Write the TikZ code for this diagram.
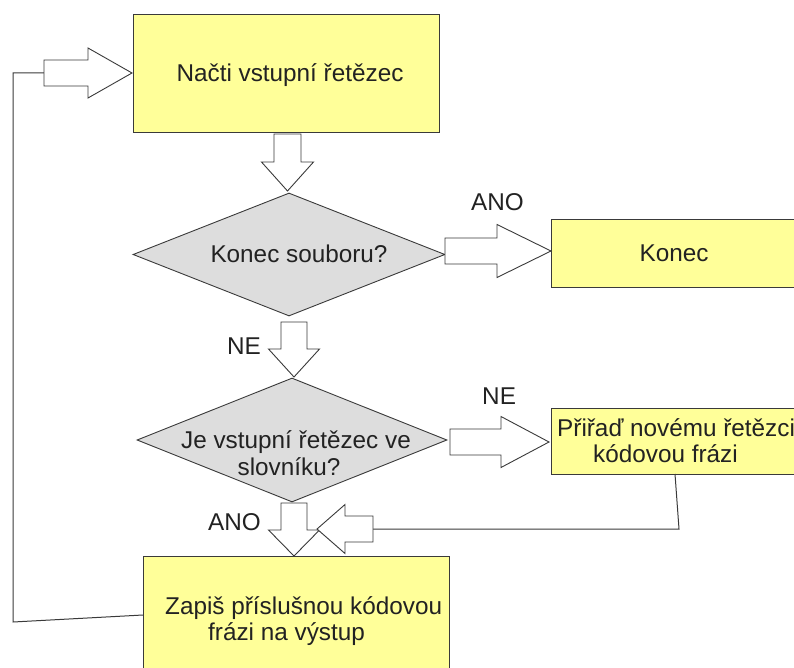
\documentclass[tikz,border=0pt]{standalone}
\usepackage{fontspec}
\setmainfont{Liberation Sans}
\usetikzlibrary{shapes.geometric}
\definecolor{boxyellow}{HTML}{FFFF99}
\definecolor{diagray}{HTML}{DDDDDD}
\definecolor{edge}{HTML}{3A3A3A}
\definecolor{ink}{HTML}{222222}
\tikzset{
  box/.style={draw=edge, fill=boxyellow, line width=1pt, inner sep=0pt},
  dia/.style={diamond, draw=edge, fill=diagray, line width=0.9pt, inner sep=0pt},
  txt/.style={text=ink, inner sep=0pt, font=\fontsize{24.3}{27}\selectfont},
  barrow/.style={draw=edge, fill=white, line width=0.9pt, line join=miter},
  wire/.style={draw=edge, line width=1pt}
}
% down block arrow: cx, top, neck, tip, half body, half head
\newcommand{\barrowdown}[6]{%
  \draw[barrow] (#1-#5,#2) -- (#1+#5,#2) -- (#1+#5,#3) -- (#1+#6,#3) -- (#1,#4)
    -- (#1-#6,#3) -- (#1-#5,#3) -- cycle;}
% horizontal block arrow: cy, tail, neck, tip, half body, half head
\newcommand{\barrowhor}[6]{%
  \draw[barrow] (#2,#1-#5) -- (#3,#1-#5) -- (#3,#1-#6) -- (#4,#1) -- (#3,#1+#6)
    -- (#3,#1+#5) -- (#2,#1+#5) -- cycle;}
\begin{document}
\begin{tikzpicture}[x=1pt,y=-1pt]
\useasboundingbox (0,0) rectangle (794,668);
\clip (0,0) rectangle (794,668);

% boxes
\node[box, anchor=north west, minimum width=306pt, minimum height=118pt] (read) at (133,14) {};
\node[box, anchor=north west, minimum width=260pt, minimum height=68pt] (endbox) at (551,219) {};
\node[box, anchor=north west, minimum width=260pt, minimum height=66pt] (assign) at (551,408) {};
\node[box, anchor=north west, minimum width=306pt, minimum height=140pt] (write) at (143,556) {};

% diamonds
\node[dia, minimum width=312pt, minimum height=123pt] (eof) at (289,254.5) {};
\node[dia, minimum width=310pt, minimum height=124pt] (indict) at (292,440) {};

% loop line
\coordinate (loopA) at (13,622);
\coordinate (loopB) at (13,73);
\coordinate (loopC) at (44,73);
\draw[wire] (write.west |- 0,615) -- (loopA) -- (loopB) -- (loopC);

% back line from assign box
\coordinate (backA) at (675,474);
\coordinate (backB) at (679,529);
\coordinate (backC) at (373,529);
\draw[wire] (backA) -- (backB) -- (backC);

% block arrows
\barrowhor{73}{44}{88}{132}{13}{25}
\barrowdown{287.5}{134}{162}{191}{13.5}{26}
\barrowhor{251}{445}{497}{551}{13}{26.5}
\barrowdown{294}{322}{349}{377}{13}{25.5}
\barrowhor{442}{450}{501}{549}{13}{25.5}
\barrowdown{294}{503}{530}{556}{13}{25.5}
\barrowhor{529}{373}{345}{317}{13}{24.5}

% texts
\node[txt, anchor=base] (t1) at (290,82) {Načti vstupní řetězec};
\node[txt, anchor=base] (t2) at (299,262) {Konec souboru?};
\node[txt, anchor=base] (t3) at (674,261) {Konec};
\node[txt, anchor=base] (t4a) at (296,448) {Je vstupní řetězec ve};
\node[txt, anchor=base] (t4b) at (289,475) {slovníku?};
\node[txt, anchor=base west] (t5a) at (557,436) {Přiřaď novému řetězci};
\node[txt, anchor=base west] (t5b) at (593,462) {kódovou frázi};
\node[txt, anchor=base west] (t6a) at (165,614) {Zapiš příslušnou kódovou};
\node[txt, anchor=base west] (t6b) at (208,640) {frázi na výstup};

% labels
\node[txt, anchor=base west] (l1) at (471,211) {ANO};
\node[txt, anchor=base west] (l2) at (227,354) {NE};
\node[txt, anchor=base west] (l3) at (482,404) {NE};
\node[txt, anchor=base west] (l4) at (208,530) {ANO};
\end{tikzpicture}
\end{document}
